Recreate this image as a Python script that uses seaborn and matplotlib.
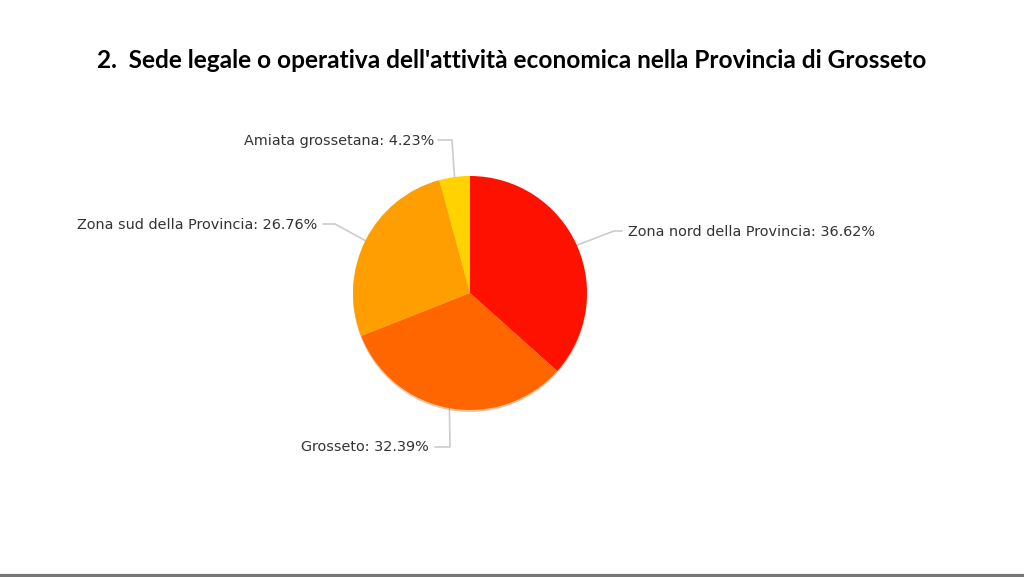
import numpy as np
import matplotlib
matplotlib.use("Agg")
import matplotlib.pyplot as plt
import seaborn as sns

# Data
categories = ["Zona nord della Provincia", "Grosseto", "Zona sud della Provincia", "Amiata grossetana"]
percentages = [36.62, 32.39, 26.76, 4.23]
colors_hex = ["#FF1100", "#FF6600", "#FF9E00", "#FFD200"]
title_text = "2.  Sede legale o operativa dell'attività economica nella Provincia di Grosseto"

sns.set_theme(style="white")
plt.rcParams['font.family'] = ['DejaVu Sans']

W, H = 1024, 577
fig = plt.figure(figsize=(W / 100, H / 100), dpi=100)
ax = fig.add_axes([0, 0, 1, 1])

cx, cy, r = 470, H - 293, 117
palette = sns.color_palette(colors_hex)

# subtle shadow
shadow = plt.Circle((cx, cy - 2), r, color="#c85a00", alpha=0.35, zorder=1, lw=0)
ax.add_patch(shadow)

wedges, _ = ax.pie(percentages, colors=palette, startangle=90, counterclock=False,
                   center=(cx, cy), radius=r, frame=True,
                   wedgeprops=dict(linewidth=0, zorder=2))
ax.set_xlim(0, W)
ax.set_ylim(0, H)
ax.set_aspect('equal')
ax.axis('off')

# label connector layout (elbow point, segment end, text anchor in px)
layout = {
    "Zona nord della Provincia": dict(elbow=(614, 231), end=(622, 231), text=(628, 232), ha='left'),
    "Grosseto": dict(elbow=(450, 447), end=(435, 447), text=(429, 447), ha='right'),
    "Zona sud della Provincia": dict(elbow=(335, 224), end=(323, 224), text=(317, 225), ha='right'),
    "Amiata grossetana": dict(elbow=(452, 140), end=(438, 140), text=(434, 141), ha='right'),
}

for w, cat, pct in zip(wedges, categories, percentages):
    ang = np.deg2rad((w.theta1 + w.theta2) / 2)
    x0 = cx + r * np.cos(ang)
    y0 = cy + r * np.sin(ang)
    L = layout[cat]
    ex, ey = L['elbow']
    tx, ty = L['end']
    ax.plot([x0, ex, tx], [y0, H - ey, H - ty], color="#cccccc", lw=1.2, zorder=0)
    ax.text(L['text'][0], H - L['text'][1], f"{cat}: {pct:.2f}%", ha=L['ha'], va='center',
            fontsize=10.4, color="#333333")

fig.text(512 / W, 1 - 60 / H, title_text, ha='center', va='center',
         fontsize=17.6, fontweight='bold', color='black', family=['Lato', 'DejaVu Sans'])

# bottom border line
ax.plot([0, W], [1.5, 1.5], color="#777777", lw=3, zorder=5, clip_on=False)

fig.savefig("out.png", dpi=100, facecolor='white')
